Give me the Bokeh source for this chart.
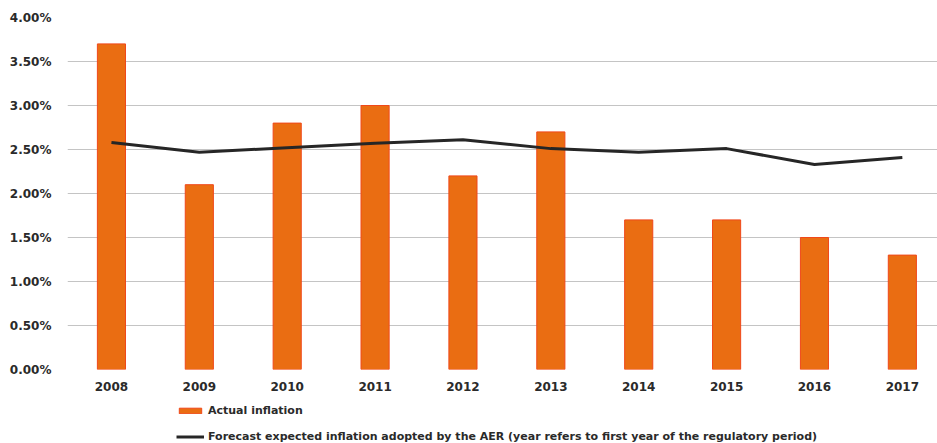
from bokeh.plotting import figure
from bokeh.layouts import column
from bokeh.models import ColumnDataSource, Range1d, Legend, LegendItem, FixedTicker
from bokeh.embed import file_html
from bokeh.resources import INLINE

years = ["2008", "2009", "2010", "2011", "2012", "2013", "2014", "2015", "2016", "2017"]
actual_inflation = [3.70, 2.10, 2.80, 3.00, 2.20, 2.70, 1.70, 1.70, 1.50, 1.30]
forecast_inflation = [2.58, 2.47, 2.52, 2.57, 2.61, 2.51, 2.47, 2.51, 2.33, 2.41]
y_ticks = [0.0, 0.5, 1.0, 1.5, 2.0, 2.5, 3.0, 3.5, 4.0]
series_names = ["Actual inflation",
                "Forecast expected inflation adopted by the AER (year refers to first year of the regulatory period)"]

idx = list(range(len(years)))
src = ColumnDataSource(dict(x=idx, year=years, actual=actual_inflation, forecast=forecast_inflation))

FONT = "DejaVu Sans"
TXT = "#2a2a2a"
BAR_FILL = "#EA6D12"
BAR_LINE = "#F0481A"
LINE_COL = "#262626"

p = figure(frame_width=870, frame_height=352, output_backend="svg", toolbar_location=None,
           x_range=Range1d(-0.5, 9.4), y_range=Range1d(0, 4.0),
           min_border_left=67, min_border_right=0, min_border_top=17, min_border_bottom=27)
p.outline_line_color = None
p.background_fill_color = "white"
p.border_fill_color = "white"

bars = p.vbar(x="x", top="actual", width=0.32, source=src,
              fill_color=BAR_FILL, line_color=BAR_LINE, line_width=1)
line = p.line(x="x", y="forecast", source=src, line_color=LINE_COL, line_width=3)

p.xgrid.grid_line_color = None
p.ygrid.grid_line_color = "#c4c4c4"
p.ygrid.grid_line_width = 1

p.yaxis.ticker = FixedTicker(ticks=y_ticks)
p.yaxis.major_label_overrides = {t: f"{t:.2f}%" for t in y_ticks}
p.xaxis.ticker = FixedTicker(ticks=idx)
p.xaxis.major_label_overrides = {i: y for i, y in zip(idx, years)}

for ax in (p.xaxis[0], p.yaxis[0]):
    ax.axis_line_color = None
    ax.major_tick_line_color = None
    ax.minor_tick_line_color = None
    ax.major_label_text_font = FONT
    ax.major_label_text_font_style = "bold"
    ax.major_label_text_color = TXT
    ax.major_label_text_font_size = "12px"
p.yaxis.major_label_standoff = 10
p.xaxis.major_label_standoff = 6

# legend strip below the chart; proxy renderers use the real data but sit outside the visible range
q = figure(width=937, height=47, output_backend="svg", toolbar_location=None,
           x_axis_type=None, y_axis_type=None, x_range=Range1d(-0.5, 9.4), y_range=Range1d(100, 101),
           min_border_left=0, min_border_right=0, min_border_top=0, min_border_bottom=0)
q.outline_line_color = None
q.grid.visible = False
q.border_fill_color = "white"
q.background_fill_color = "white"
lb = q.vbar(x="x", top="actual", width=0.32, source=src, fill_color=BAR_FILL, line_color=BAR_LINE, line_width=1)
ll = q.line(x="x", y="forecast", source=src, line_color=LINE_COL, line_width=3)

legend = Legend(items=[LegendItem(label=series_names[0], renderers=[lb]),
                       LegendItem(label=series_names[1], renderers=[ll])],
                orientation="vertical", location=(109, 0),
                label_text_font=FONT, label_text_font_style="bold", label_text_font_size="11px",
                label_text_color=TXT, glyph_width=28, glyph_height=7, label_height=14,
                label_standoff=4, spacing=12, padding=0, margin=0,
                border_line_color=None, background_fill_alpha=0)
q.add_layout(legend, "center")

layout = column(p, q, spacing=0)
open("out.html", "w").write(file_html(layout, INLINE))
